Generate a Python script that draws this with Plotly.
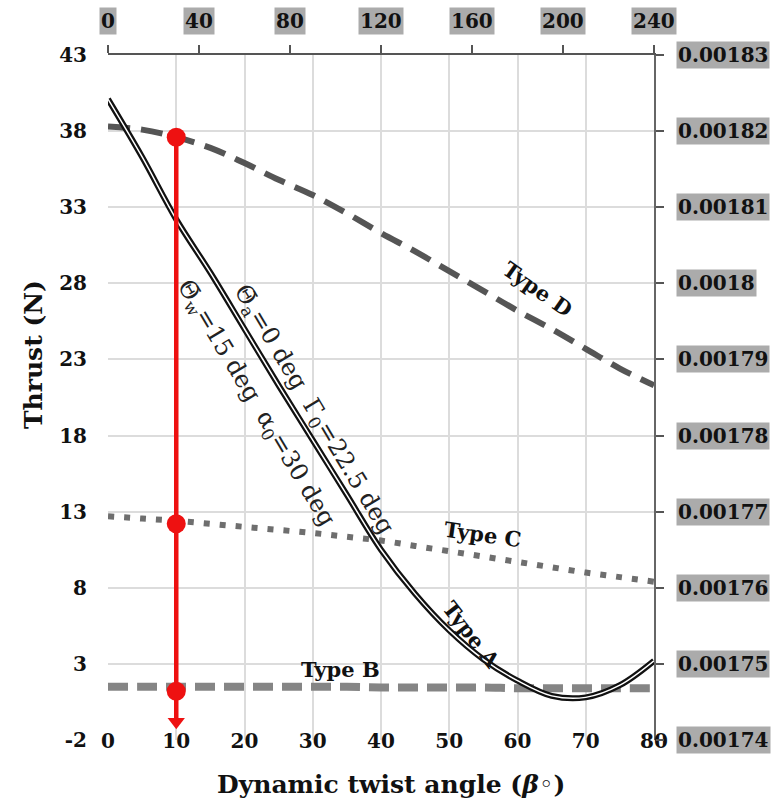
import plotly.graph_objects as go

# ---------------- data ----------------
beta = [0, 5, 10, 15, 20, 25, 30, 35, 40, 45, 50, 55, 60, 65, 70, 75, 80]
type_a = [40.1, 36.3, 32.2, 28.7, 25.0, 21.3, 17.7, 14.1, 10.5, 7.6, 5.2, 3.3, 1.9, 0.9, 0.8, 1.6, 3.2]
type_b = [1.5, 1.5, 1.5, 1.5, 1.5, 1.5, 1.5, 1.5, 1.45, 1.45, 1.45, 1.45, 1.4, 1.4, 1.4, 1.4, 1.4]
type_c = [12.7, 12.55, 12.4, 12.2, 12.0, 11.8, 11.6, 11.35, 11.1, 10.75, 10.4, 10.05, 9.7, 9.35, 9.0, 8.7, 8.4]
type_d = [38.3, 38.1, 37.6, 36.9, 35.9, 34.8, 33.8, 32.6, 31.3, 30.1, 28.8, 27.5, 26.2, 25.0, 23.7, 22.4, 21.3]

red_beta = 10
red_line_y = [37.8, -1.0]
red_marker_y = [37.6, 12.2, 1.2]
red_arrow_y = [-0.8]

left_ticks = [-2, 3, 8, 13, 18, 23, 28, 33, 38, 43]
x_ticks = [0, 10, 20, 30, 40, 50, 60, 70, 80]
top_ticks = [0, 40, 80, 120, 160, 200, 240]
top_labels = ["0", "40", "80", "120", "160", "200", "240"]
right_ticks = [0.00174, 0.00175, 0.00176, 0.00177, 0.00178, 0.00179, 0.00180, 0.00181, 0.00182, 0.00183]
right_labels = ["0.00174", "0.00175", "0.00176", "0.00177", "0.00178",
                "0.00179", "0.0018", "0.00181", "0.00182", "0.00183"]

FONT = "DejaVu Serif"

fig = go.Figure()

# Type D
fig.add_trace(go.Scatter(x=beta, y=type_d, mode="lines", line=dict(color="#555555", width=6, dash="22px,11px", shape="spline"), showlegend=False, hoverinfo="skip"))
# Type C
fig.add_trace(go.Scatter(x=beta, y=type_c, mode="lines", line=dict(color="#6e6e6e", width=6, dash="6px,10px", shape="spline"), showlegend=False, hoverinfo="skip"))
# Type B
fig.add_trace(go.Scatter(x=beta, y=type_b, mode="lines", line=dict(color="#858585", width=8, dash="20px,9px", shape="spline"), showlegend=False, hoverinfo="skip"))
# Type A (double line: black with white core)
fig.add_trace(go.Scatter(x=beta, y=type_a, mode="lines", line=dict(color="#111111", width=6, shape="spline"), showlegend=False, hoverinfo="skip"))
fig.add_trace(go.Scatter(x=beta, y=type_a, mode="lines", line=dict(color="white", width=1.5, shape="spline"), showlegend=False, hoverinfo="skip"))

# red vertical line with markers and arrow
fig.add_trace(go.Scatter(x=[red_beta] * len(red_line_y), y=red_line_y, mode="lines", line=dict(color="#ee1111", width=4.5), showlegend=False, hoverinfo="skip"))
fig.add_trace(go.Scatter(x=[red_beta] * len(red_marker_y), y=red_marker_y, mode="markers", marker=dict(color="#ee1111", size=19), showlegend=False, hoverinfo="skip"))
fig.add_trace(go.Scatter(x=[red_beta] * len(red_arrow_y), y=red_arrow_y, mode="markers", marker=dict(color="#ee1111", size=15, symbol="triangle-down"), showlegend=False, hoverinfo="skip"))

# invisible trace for secondary axes
fig.add_trace(go.Scatter(x=[top_ticks[0], top_ticks[-1]], y=[right_ticks[0], right_ticks[-1]], xaxis="x2", yaxis="y2", mode="markers", marker=dict(opacity=0), showlegend=False, hoverinfo="skip"))

tickfont = dict(family=FONT, size=20, color="#111111", weight="bold")

fig.update_layout(
    width=777, height=806,
    margin=dict(l=108, r=123, t=55, b=66),
    paper_bgcolor="white", plot_bgcolor="white",
    xaxis=dict(range=[0, 80], tickvals=x_ticks, ticktext=[str(v) for v in x_ticks],
               showgrid=True, gridcolor="#dcdcdc", gridwidth=1.5, zeroline=False,
               showline=False, ticks="", tickfont=tickfont, ticklabelstandoff=-13),
    yaxis=dict(range=[-2, 43], tickvals=left_ticks, ticktext=[str(v) for v in left_ticks],
               showgrid=True, gridcolor="#dcdcdc", gridwidth=1.5, zeroline=False,
               showline=False, ticks="", tickfont=tickfont, ticklabelstandoff=20),
    xaxis2=dict(range=[0, 240], overlaying="x", side="top", anchor="y", tickvals=top_ticks,
                showticklabels=False, ticks="outside", ticklen=8, tickcolor="#555555", tickwidth=1.5,
                showline=True, linecolor="#555555", linewidth=1.5, showgrid=False, zeroline=False),
    yaxis2=dict(range=[0.00174, 0.00183], overlaying="y", side="right", anchor="x", tickvals=right_ticks,
                showticklabels=False, ticks="outside", ticklen=8, tickcolor="#555555", tickwidth=1.5,
                showline=True, linecolor="#666666", linewidth=2, showgrid=False, zeroline=False),
)

ann = []
# top tick labels with grey boxes
for v, t in zip(top_ticks, top_labels):
    ann.append(dict(x=v, xref="x2", y=1, yref="paper", yanchor="bottom", xanchor="center",
                    yshift=20, text="<b>" + t + "</b>", showarrow=False, bgcolor="#ababab", borderpad=1,
                    font=dict(family=FONT, size=20, color="#111111")))
# right tick labels with grey boxes
for v, t in zip(right_ticks, right_labels):
    ann.append(dict(x=1, xref="paper", y=v, yref="y2", xanchor="left", yanchor="middle",
                    xshift=22, text="<b>" + t + "</b>", showarrow=False, bgcolor="#ababab", borderpad=1,
                    font=dict(family=FONT, size=20, color="#111111")))

# axis titles
ann.append(dict(x=0.5, xref="paper", y=0, yref="paper", xanchor="center", yanchor="top",
                xshift=10, yshift=-28, showarrow=False,
                text="<b>Dynamic twist angle (<i>β</i>◦)</b>",
                font=dict(family=FONT, size=25, color="#111111")))
ann.append(dict(x=0, xref="paper", y=0.562, yref="paper", xanchor="center", yanchor="middle",
                xshift=-75, showarrow=False, textangle=-90,
                text="<b>Thrust (N)</b>", font=dict(family=FONT, size=25, color="#111111")))

# curve labels
lab_font = dict(family=FONT, size=21, color="#111111")
ann.append(dict(x=63.0, y=27.6, text="<b>Type D</b>", textangle=35, showarrow=False, font=lab_font))
ann.append(dict(x=54.9, y=11.5, text="<b>Type C</b>", textangle=8, showarrow=False, font=lab_font))
ann.append(dict(x=34.0, y=2.6, text="<b>Type B</b>", textangle=0, showarrow=False, font=lab_font))
ann.append(dict(x=53.2, y=4.9, text="<b>Type A</b>", textangle=52, showarrow=False, font=lab_font))

par_font = dict(family=FONT, size=24, color="#222222")
ann.append(dict(x=30.0, y=19.7, text="Θ̄<sub>a</sub>=0 deg  Γ<sub>0</sub>=22.5 deg",
                textangle=59, showarrow=False, font=par_font))
ann.append(dict(x=21.6, y=20.1, text="Θ̄<sub>w</sub>=15 deg  α<sub>0</sub>=30 deg",
                textangle=59, showarrow=False, font=par_font))

fig.update_layout(annotations=ann)

fig.write_html("out.html")
